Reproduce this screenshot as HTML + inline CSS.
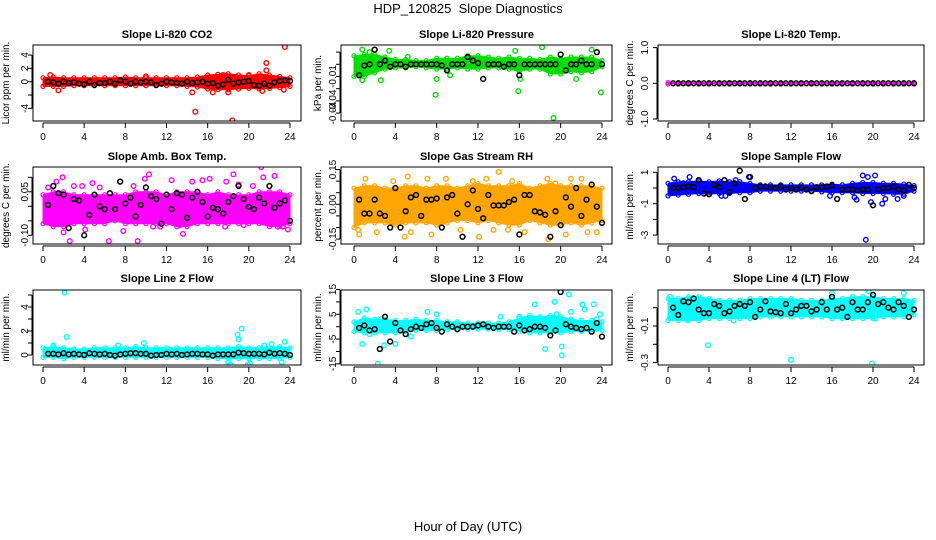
<!DOCTYPE html>
<html><head><meta charset="utf-8"><style>
html,body{margin:0;padding:0;background:#fff;}
svg{display:block;font-family:"Liberation Sans",sans-serif;}
</style></head><body>
<svg id="chart" width="936" height="540" viewBox="0 0 936 540">
<rect width="936" height="540" fill="#fff"/>
<text x="468" y="13" text-anchor="middle" font-size="13">HDP_120825&#160; Slope Diagnostics</text>
<text x="468" y="531" text-anchor="middle" font-size="13">Hour of Day (UTC)</text>
</svg>
<script>
const xTicks=[0,4,8,12,16,20,24];
const hours=[0,1,2,3,4,5,6,7,8,9,10,11,12,13,14,15,16,17,18,19,20,21,22,23,24];
const meanHours=[0.5,1,1.5,2,2.5,3,3.5,4,4.5,5,5.5,6,6.5,7,7.5,8,8.5,9,9.5,10,10.5,11,11.5,12,12.5,13,13.5,14,14.5,15,15.5,16,16.5,17,17.5,18,18.5,19,19.5,20,20.5,21,21.5,22,22.5,23,23.5,24];

const p1Lo=[-0.7,-0.7,-0.7,-0.6,-0.6,-0.6,-0.6,-0.6,-0.6,-0.6,-0.6,-0.6,-0.6,-0.6,-0.7,-0.8,-1.1,-1.2,-1.2,-1.1,-1.0,-1.1,-1.0,-0.9,-0.7];
const p1Hi=[0.6,0.7,0.6,0.6,0.6,0.6,0.6,0.6,0.7,0.6,0.6,0.6,0.6,0.6,0.6,0.7,1.0,1.1,1.2,1.0,0.9,1.2,1.0,0.8,0.6];
const p1OutX=[0.7,1.5,14.5,14.8,18.4,23.5,21.7,21.7,17.5,20,16.5,18,21.3,23.4,10];
const p1OutY=[1.0,-1.3,-1.6,-4.5,-5.8,5.2,2.8,1.7,1.0,1.0,-1.6,-1.6,-1.4,-1.2,0.8];
const p1Mean=[0,-0.1,-0.3,0,-0.2,-0.1,-0.3,-0.4,0,-0.5,-0.2,-0.2,0,-0.3,0.2,0,-0.3,0,-0.1,0,-0.1,-0.5,-0.3,0,-0.1,-0.2,-0.3,0,-0.2,-0.1,0,-0.3,-0.2,-0.6,-0.4,0.3,-0.3,-0.1,0,0.1,-0.5,-0.6,-0.3,-0.6,-0.1,0.1,0.2,0.1];

const p2Lo=[-0.010,-0.010,-0.007,-0.004,-0.003,-0.003,-0.002,-0.003,-0.004,-0.004,-0.003,-0.004,-0.004,-0.003,-0.003,-0.004,-0.006,-0.004,-0.004,-0.008,-0.008,-0.006,-0.007,-0.006,-0.002];
const p2Hi=[0.007,0.008,0.008,0.006,0.004,0.004,0.003,0.003,0.005,0.005,0.005,0.007,0.007,0.006,0.005,0.006,0.005,0.005,0.004,0.006,0.005,0.006,0.006,0.006,0.003];
const p2OutX=[0.8,1.5,3.4,0.8,2.6,7.9,8.0,15.9,16.1,18.2,19.3,23.9,23.0,21.5,5.2,9.3,15.6];
const p2OutY=[0.012,0.010,0.011,-0.013,-0.013,-0.025,-0.012,-0.022,-0.012,0.014,-0.044,-0.023,0.012,-0.012,0.006,-0.009,0.011];
const p2Mean=[-0.009,-0.001,0,0.012,0,0.003,-0.002,0,0,-0.002,0,0,0,0,0,0,-0.001,-0.005,0,0,0,0.006,0.003,0.001,-0.012,0,0,0,-0.002,0,0,-0.009,0,0,0,0,0,0,0,0.008,-0.005,0,0,0.003,0,0,0.010,0];

const p3Lo=[-0.02,-0.02,-0.02,-0.02,-0.02,-0.02,-0.02,-0.02,-0.02,-0.02,-0.02,-0.02,-0.02,-0.02,-0.02,-0.02,-0.02,-0.02,-0.02,-0.02,-0.02,-0.02,-0.02,-0.02,-0.02];
const p3Hi=[0.02,0.02,0.02,0.02,0.02,0.02,0.02,0.02,0.02,0.02,0.02,0.02,0.02,0.02,0.02,0.02,0.02,0.02,0.02,0.02,0.02,0.02,0.02,0.02,0.02];
const p3OutX=[];
const p3OutY=[];
const p3Mean=[0,0,0,0,0,0,0,0,0,0,0,0,0,0,0,0,0,0,0,0,0,0,0,0,0,0,0,0,0,0,0,0,0,0,0,0,0,0,0,0,0,0,0,0,0,0,0,0];

const p4Lo=[-0.06,-0.07,-0.07,-0.06,-0.06,-0.06,-0.06,-0.05,-0.06,-0.06,-0.06,-0.06,-0.06,-0.07,-0.07,-0.06,-0.06,-0.06,-0.06,-0.06,-0.06,-0.06,-0.07,-0.07,-0.06];
const p4Hi=[0.04,0.05,0.05,0.04,0.04,0.04,0.04,0.04,0.04,0.05,0.05,0.05,0.04,0.05,0.05,0.05,0.04,0.05,0.04,0.04,0.04,0.05,0.05,0.05,0.04];
const p4OutX=[0.5,1.9,2.0,2.6,3.0,4.1,5.5,6.4,7.8,8.8,9.2,10.3,10.7,11.4,12.5,13.3,13.6,15.5,16.2,17.7,18.5,19.5,20.4,21.2,21.4,22.5,23.3,23.8,4.8,14.5,17.8,22.8,1.3,9.9,3.8,19.0];
const p4OutY=[0.065,0.1,-0.09,-0.12,0.07,-0.08,0.065,-0.12,-0.085,0.07,-0.12,0.11,-0.07,-0.07,0.09,-0.065,-0.095,0.09,0.095,-0.07,0.11,-0.065,0.07,0.135,0.1,0.105,-0.07,-0.08,0.08,0.085,0.085,-0.07,0.085,0.095,0.07,0.075];
const p4Mean=[0.005,0.07,0.045,0.04,-0.075,0.025,0.02,-0.1,-0.03,0.04,0,-0.01,0.045,-0.01,0.085,0.01,0.03,-0.035,0.005,0.065,0.035,0.025,-0.06,0.04,-0.01,0.045,0.04,-0.04,0.03,0.05,0.015,-0.035,-0.005,-0.01,-0.025,0.015,0.035,0.07,0.025,-0.002,-0.01,0.03,0.01,0.07,-0.005,0.01,0.02,-0.05];

const p5Lo=[-0.10,-0.08,-0.08,-0.08,-0.09,-0.08,-0.08,-0.08,-0.09,-0.08,-0.07,-0.07,-0.08,-0.07,-0.08,-0.09,-0.09,-0.07,-0.08,-0.09,-0.09,-0.08,-0.09,-0.08,-0.07];
const p5Hi=[0.07,0.08,0.08,0.07,0.07,0.08,0.08,0.07,0.08,0.08,0.07,0.08,0.09,0.08,0.08,0.08,0.09,0.07,0.08,0.09,0.08,0.08,0.08,0.08,0.07];
const p5OutX=[0.5,1.1,2.2,3.8,5.2,5.5,7.1,7.5,8.9,10.3,11.5,12.1,12.8,13.5,14.0,14.9,15.3,16.5,18.7,18.8,19.5,20.5,21.0,22.0,22.6,23.5,0.4,4.9];
const p5OutY=[-0.13,0.11,-0.12,0.1,0.12,-0.12,0.11,-0.13,0.11,-0.11,0.1,-0.14,0.11,-0.11,0.14,-0.11,0.1,-0.12,0.11,-0.15,0.09,-0.13,0.11,0.11,-0.12,-0.12,-0.11,-0.14];
const p5Mean=[0.02,-0.04,-0.04,0.02,-0.04,-0.05,-0.1,0.07,-0.1,-0.03,0.03,0.04,-0.05,0.02,0.02,0.025,-0.1,0.03,0.04,-0.04,-0.14,0,0.06,-0.02,-0.06,0.04,-0.005,-0.005,-0.005,0.01,0.02,-0.13,0.04,0.04,-0.03,-0.035,-0.045,-0.14,-0.03,-0.09,0.03,-0.01,0.07,-0.05,0.02,0.085,-0.01,-0.08];

const p6Lo=[-0.5,-0.45,-0.4,-0.35,-0.4,-0.35,-0.35,-0.3,-0.3,-0.2,-0.2,-0.2,-0.2,-0.2,-0.2,-0.25,-0.3,-0.3,-0.3,-0.35,-0.35,-0.35,-0.4,-0.4,-0.2];
const p6Hi=[0.3,0.4,0.4,0.45,0.4,0.45,0.4,0.4,0.3,0.2,0.2,0.2,0.2,0.2,0.2,0.2,0.25,0.2,0.3,0.35,0.35,0.3,0.3,0.25,0.15];
const p6OutX=[0.6,2.1,5.6,6.6,7.9,15.8,18.2,18.4,19.0,19.3,19.5,19.8,20.2,20.9,21.2,22.4,23.0,5.2,1.5];
const p6OutY=[0.6,0.7,-0.5,0.5,0.7,-0.5,-0.6,-0.75,0.8,-3.3,0.7,-0.9,0.8,-1.0,-0.7,-0.7,-0.5,-0.5,0.3];
const p6Mean=[0,0,0.05,0.1,0.05,0.5,-0.35,-0.4,0.2,0.05,0.5,-0.25,0.3,1.1,-0.7,0.7,0,0.1,0.1,0.05,0,0.1,-0.1,0,-0.1,0.05,-0.1,-0.2,0.05,0.05,0.1,0.15,-0.7,-0.1,-0.1,-0.1,-0.15,-0.1,-0.1,-1.1,-0.1,0,0,0.1,-0.1,-0.15,0.2,0];

const p7Lo=[-0.2,-0.2,-0.3,-0.2,-0.2,-0.2,-0.2,-0.2,-0.2,-0.2,-0.2,-0.2,-0.2,-0.2,-0.2,-0.2,-0.2,-0.3,-0.3,-0.3,-0.3,-0.3,-0.3,-0.3,-0.2];
const p7Hi=[0.6,0.7,0.6,0.5,0.5,0.6,0.6,0.6,0.6,0.7,0.6,0.6,0.6,0.6,0.6,0.6,0.6,0.6,0.6,0.7,0.6,0.6,0.6,0.7,0.6];
const p7OutX=[2.1,2.3,18.9,19.0,19.3,18.0,18.2,19.9,23.2,23.5,22.2,1.0,20.1,7.3,9.8,21.5];
const p7OutY=[5.2,1.5,1.7,1.3,2.2,-0.6,-0.8,-0.8,-0.6,1.1,0.9,0.8,-0.7,0.8,1.0,0.8];
const p7Mean=[0.1,0.1,0.05,0.15,0.05,0.1,0.05,0,0.15,0.1,0.05,0.1,0,-0.05,0.05,0.1,0.15,0.15,0.1,0.1,-0.05,0,0,0.1,0.05,0.1,0,0.05,0.1,0.1,0.05,0.05,-0.05,0.05,0.05,0.05,0.05,0.2,0.15,0.1,0.1,0.1,0.05,0.2,0.1,0.15,0.1,0];

const p8Lo=[-2,-2.5,-2.5,-2.5,-2.5,-2,-1.5,-1.5,-1.5,-1.2,-1.2,-1,-1,-1,-1.2,-1.2,-2,-2.5,-2.5,-2.5,-2.5,-2,-2,-2,-1.5];
const p8Hi=[2,3.5,3,3,2.5,2.5,3,2.5,2.5,2,2,1.5,1.5,1.5,1.5,2,3.5,4.5,4,4.5,4,3,2.5,2.5,2];
const p8OutX=[0.8,1.2,2.3,2.9,2.6,4.0,5.5,7.1,8.0,14.2,16.0,17.5,18.5,19.4,19.6,20.1,20.1,20.8,21.0,22.1,22.3,23.2,23.5,23.8,1.5,0.4];
const p8OutY=[-7,7,-15,-7.5,3,-7,-4,6,5,4,4,9,-9,10,5,-8,-11.5,13,6,9,7,9,3,5,-3,6];
const p8Mean=[-0.5,0.5,-1.5,-1,-9,4,-6,1.5,-1.5,-3,-1,0,-0.5,1,1.5,-0.5,-2,1,0,-1,0,0,0,0.5,1,0,-0.5,0,0,0,-2,0.5,-1.5,-1,0,0,-0.5,-3.5,-1.5,14,1,0,-0.5,-1,-0.5,-2,1.5,-4];

const p9Lo=[-0.07,-0.07,-0.07,-0.07,-0.06,-0.06,-0.06,-0.06,-0.06,-0.05,-0.05,-0.05,-0.05,-0.05,-0.05,-0.05,-0.06,-0.06,-0.06,-0.06,-0.06,-0.05,-0.05,-0.05,-0.04];
const p9Hi=[0.05,0.05,0.06,0.06,0.05,0.04,0.04,0.04,0.05,0.05,0.05,0.05,0.05,0.04,0.04,0.04,0.05,0.05,0.06,0.06,0.06,0.05,0.05,0.05,0.04];
const p9OutX=[0.2,3.9,12.0,19.9,20.2,1.8,16.0,19.6,6.4,0.2,23.0];
const p9OutY=[-0.055,-0.205,-0.285,-0.305,-0.06,-0.065,0.08,0.09,-0.07,0.06,0.08];
const p9Mean=[0,-0.04,0.035,0.03,0.05,-0.01,-0.03,-0.03,0.02,0.01,-0.03,-0.02,0.01,0.02,0.01,0.03,-0.05,-0.01,0.035,-0.02,-0.025,-0.03,0.02,-0.03,-0.01,0.01,0.01,-0.02,-0.01,0.03,-0.01,0.06,-0.01,0,-0.05,0.03,-0.01,-0.01,0.03,0.07,0.02,0.03,0,-0.01,0.03,0.01,-0.05,-0.01];

const p1Ticks=[-4,-2,0,2,4]; const p1Labels=['-4','','0','2','4'];
const p2Ticks=[0.01,0,-0.01,-0.02,-0.03,-0.04]; const p2Labels=['','','-0.01','','-0.04','-0.04'];
const p3Ticks=[-1,0,1]; const p3Labels=['-1.0','0.0','1.0'];
const p4Ticks=[0.1,0.05,0,-0.05,-0.1]; const p4Labels=['','0.05','','','-0.10'];
const p5Ticks=[0.15,0.1,0.05,0,-0.05,-0.1,-0.15]; const p5Labels=['0.15','','','0.00','','','-0.15'];
const p6Ticks=[1,0,-1,-2,-3]; const p6Labels=['1','','-1','','-3'];
const p7Ticks=[5,4,3,2,1,0]; const p7Labels=['','4','','2','','0'];
const p8Ticks=[15,10,5,0,-5,-10,-15]; const p8Labels=['15','','5','','-5','','-15'];
const p9Ticks=[0,-0.1,-0.2,-0.3]; const p9Labels=['','-0.1','','-0.3'];

const NS='http://www.w3.org/2000/svg';
const svg=document.getElementById('chart');
function mk(tag,attrs,parent){const e=document.createElementNS(NS,tag);for(const k in attrs)e.setAttribute(k,attrs[k]);(parent||svg).appendChild(e);return e;}

const cols=[{bx0:33,bx1:301,x0:43,x24:290,yt:9,yl:28},{bx0:341,bx1:612,x0:354,x24:602,yt:321,yl:336},{bx0:658,bx1:924,x0:668,x24:914,yt:633,yl:648}];
const rows=[{by0:45,by1:121,ty:38},{by0:167,by1:244,ty:160},{by0:290,by1:365,ty:282}];

const panels=[
{key:'co2',title:'Slope Li-820 CO2',ylab:'Licor ppm per min.',c:0,r:0,y0:81.7,k:6.67,color:'#ff0000',lo:p1Lo,hi:p1Hi,ox:p1OutX,oy:p1OutY,mean:p1Mean,ticks:p1Ticks,labels:p1Labels},
{key:'pressure',title:'Slope Li-820 Pressure',ylab:'kPa per min.',c:1,r:0,y0:64.3,k:1220,color:'#00dd00',lo:p2Lo,hi:p2Hi,ox:p2OutX,oy:p2OutY,mean:p2Mean,ticks:p2Ticks,labels:p2Labels},
{key:'temp',title:'Slope Li-820 Temp.',ylab:'degrees C per min.',c:2,r:0,y0:83.3,k:35.7,color:'#ff00ff',lo:p3Lo,hi:p3Hi,ox:p3OutX,oy:p3OutY,mean:p3Mean,ticks:p3Ticks,labels:p3Labels},
{key:'amb-box-temp',title:'Slope Amb. Box Temp.',ylab:'degrees C per min.',c:0,r:1,y0:206.3,k:290,color:'#ff00ff',lo:p4Lo,hi:p4Hi,ox:p4OutX,oy:p4OutY,mean:p4Mean,ticks:p4Ticks,labels:p4Labels},
{key:'gas-rh',title:'Slope Gas Stream RH',ylab:'percent per min.',c:1,r:1,y0:204.3,k:232,color:'#ffa500',lo:p5Lo,hi:p5Hi,ox:p5OutX,oy:p5OutY,mean:p5Mean,ticks:p5Ticks,labels:p5Labels},
{key:'sample-flow',title:'Slope Sample Flow',ylab:'ml/min per min.',c:2,r:1,y0:188,k:15.7,color:'#0000ff',lo:p6Lo,hi:p6Hi,ox:p6OutX,oy:p6OutY,mean:p6Mean,ticks:p6Ticks,labels:p6Labels},
{key:'line2-flow',title:'Slope Line 2 Flow',ylab:'ml/min per min.',c:0,r:2,y0:355,k:12,color:'#00ffff',lo:p7Lo,hi:p7Hi,ox:p7OutX,oy:p7OutY,mean:p7Mean,ticks:p7Ticks,labels:p7Labels},
{key:'line3-flow',title:'Slope Line 3 Flow',ylab:'ml/min per min.',c:1,r:2,y0:326.7,k:2.48,color:'#00ffff',lo:p8Lo,hi:p8Hi,ox:p8OutX,oy:p8OutY,mean:p8Mean,ticks:p8Ticks,labels:p8Labels},
{key:'line4-flow',title:'Slope Line 4 (LT) Flow',ylab:'ml/min per min.',c:2,r:2,y0:307.7,k:183,color:'#00ffff',lo:p9Lo,hi:p9Hi,ox:p9OutX,oy:p9OutY,mean:p9Mean,ticks:p9Ticks,labels:p9Labels}
];

panels.forEach(p=>{
  const C=cols[p.c],R=rows[p.r];
  const xs=v=>C.x0+v*(C.x24-C.x0)/24;
  const ys=v=>p.y0-v*p.k;
  const g=mk('g',{});
  
  
  const clip=mk('clipPath',{id:'clip-'+p.key},g);
  mk('rect',{x:C.bx0,y:R.by0,width:C.bx1-C.bx0,height:R.by1-R.by0},clip);
  const plot=mk('g',{'clip-path':'url(#clip-'+p.key+')'},g);
  let pts=[];
  hours.forEach((h,i)=>pts.push(xs(h)+','+ys(p.hi[i])));
  for(let i=hours.length-1;i>=0;i--)pts.push(xs(hours[i])+','+ys(p.lo[i]));
  const band=mk('polygon',{points:pts.join(' '),fill:p.color,stroke:p.color,'stroke-width':1,'stroke-linejoin':'round'},plot);
  
  
  hours.forEach((h,i)=>{
    [p.hi[i],p.lo[i]].forEach(v=>{
      const c=mk('circle',{cx:xs(h),cy:ys(v),r:2,fill:'none',stroke:p.color,'stroke-width':1.2},plot);
      
      
    });
  });
  p.ox.forEach((x,i)=>{
    const c=mk('circle',{cx:xs(x),cy:ys(p.oy[i]),r:2.3,fill:'none',stroke:p.color,'stroke-width':1.4},plot);
    
    
  });
  p.mean.forEach((v,i)=>{
    const c=mk('circle',{cx:xs(meanHours[i]),cy:ys(v),r:2.4,fill:'none',stroke:'#000','stroke-width':1.5},plot);
    
    
  });
  const box=mk('rect',{x:C.bx0,y:R.by0,width:C.bx1-C.bx0,height:R.by1-R.by0,fill:'none',stroke:'#000','stroke-width':1},g);
  
  
  const t=mk('text',{x:(C.bx0+C.bx1)/2,y:R.ty,'text-anchor':'middle','font-size':11,'font-weight':'bold'},g);
  t.textContent=p.title;
  
  
  const cy=(R.by0+R.by1)/2;
  const yt=mk('text',{x:C.yt,y:cy,'text-anchor':'middle','font-size':10,transform:'rotate(-90 '+C.yt+' '+cy+')'},g);
  yt.textContent=p.ylab;
  
  
  mk('line',{x1:C.bx0-1,x2:C.bx0-1,y1:ys(Math.max(...p.ticks)),y2:ys(Math.min(...p.ticks)),stroke:'#000'},g);
  p.ticks.forEach((v,i)=>{
    mk('line',{x1:C.bx0-5,x2:C.bx0-1,y1:ys(v),y2:ys(v),stroke:'#000'},g);
    if(p.labels[i]){
      const lx=C.yl, ly=ys(v);
      const l=mk('text',{x:lx,y:ly,'text-anchor':'middle','font-size':10,transform:'rotate(-90 '+lx+' '+ly+')'},g);
      l.textContent=p.labels[i];
      
      
    }
  });
  const ay=R.by1+2;
  mk('line',{x1:xs(0),x2:xs(24),y1:ay,y2:ay,stroke:'#000'},g);
  xTicks.forEach(v=>{
    mk('line',{x1:xs(v),x2:xs(v),y1:ay,y2:ay+5,stroke:'#000'},g);
    const l=mk('text',{x:xs(v),y:ay+17,'text-anchor':'middle','font-size':10},g);
    l.textContent=String(v);
    
    
  });
});
</script>
</body></html>
